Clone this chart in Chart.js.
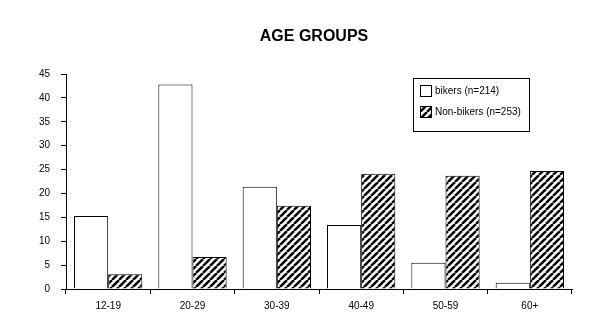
<!DOCTYPE html>
<html><head><meta charset="utf-8">
<script src="https://cdn.jsdelivr.net/npm/chart.js@4/dist/chart.umd.min.js"></script>
<style>html,body{margin:0;padding:0;background:#fff}#wrap{width:597px;height:326px}</style>
</head><body><div id="wrap"><canvas id="c" width="597" height="326"></canvas></div>
<script>
const title = "AGE GROUPS";
const categories = ["12-19","20-29","30-39","40-49","50-59","60+"];
const seriesNames = ["bikers (n=214)","Non-bikers (n=253)"];
const bikers = [15.3, 42.8, 21.4, 13.4, 5.5, 1.3];
const nonBikers = [3.1, 6.7, 17.4, 24.1, 23.7, 24.7];
const yTicks = [0,5,10,15,20,25,30,35,40,45];

function hatch(){
  const n = 7;
  const p = document.createElement('canvas'); p.width = n; p.height = n;
  const g = p.getContext('2d');
  g.fillStyle = '#fff'; g.fillRect(0,0,n,n);
  g.strokeStyle = '#000'; g.lineWidth = 2.5;
  for (const k of [-n,0,n]) { g.beginPath(); g.moveTo(k,n); g.lineTo(k+n,0); g.stroke(); }
  return document.getElementById('c').getContext('2d').createPattern(p,'repeat');
}
const hatchFill = hatch();
const font = "'Liberation Sans', Arial, sans-serif";

const deco = {
  id:'deco',
  afterDraw(chart){
    const ctx = chart.ctx;
    ctx.save();
    ctx.fillStyle = '#000';
    ctx.font = "bold 16px " + font;
    ctx.textAlign = 'center'; ctx.textBaseline = 'middle';
    ctx.fillText(title, 314, 37);
    // legend
    ctx.strokeStyle = '#000'; ctx.lineWidth = 1;
    ctx.strokeRect(413.5, 78.5, 116, 53);
    const fills = ['#fff', hatchFill];
    const ys = [91, 112];
    ctx.font = "10px " + font; ctx.textAlign = 'left';
    for (let i=0;i<2;i++){
      ctx.fillStyle = fills[i];
      ctx.fillRect(420.5, ys[i]-5.5, 11, 11);
      ctx.strokeRect(420.5, ys[i]-5.5, 11, 11);
      ctx.fillStyle = '#000';
      ctx.fillText(seriesNames[i], 435, ys[i]);
    }
    ctx.restore();
  }
};

new Chart(document.getElementById('c'), {
  type:'bar',
  data:{ labels: categories, datasets:[
    {label: seriesNames[0], data: bikers, backgroundColor:'#fff', borderColor:'#000', borderWidth:1},
    {label: seriesNames[1], data: nonBikers, backgroundColor: hatchFill, borderColor:'#000', borderWidth:1}
  ]},
  options:{
    responsive:false, animation:false,
    layout:{padding:{top:74,right:25,left:0,bottom:0}},
    plugins:{legend:{display:false}, tooltip:{enabled:false}},
    datasets:{bar:{categoryPercentage:0.81, barPercentage:1}},
    scales:{
      x:{
        offset:true,
        grid:{display:true, offset:true, drawOnChartArea:false, drawTicks:true, tickLength:5, color:'#000'},
        border:{display:true, color:'#000'},
        ticks:{color:'#000', font:{family:font, size:10}, padding:6, maxRotation:0},
        afterFit(s){ s.height = 37; }
      },
      y:{
        min:0, max:45,
        afterBuildTicks(s){ s.ticks = yTicks.map(v=>({value:v})); },
        grid:{display:true, drawOnChartArea:false, drawTicks:true, tickLength:5, color:'#000'},
        border:{display:true, color:'#000'},
        ticks:{color:'#000', font:{family:font, size:10}, padding:11},
        afterFit(s){ s.width = 66; }
      }
    }
  },
  plugins:[deco]
});
</script></body></html>
